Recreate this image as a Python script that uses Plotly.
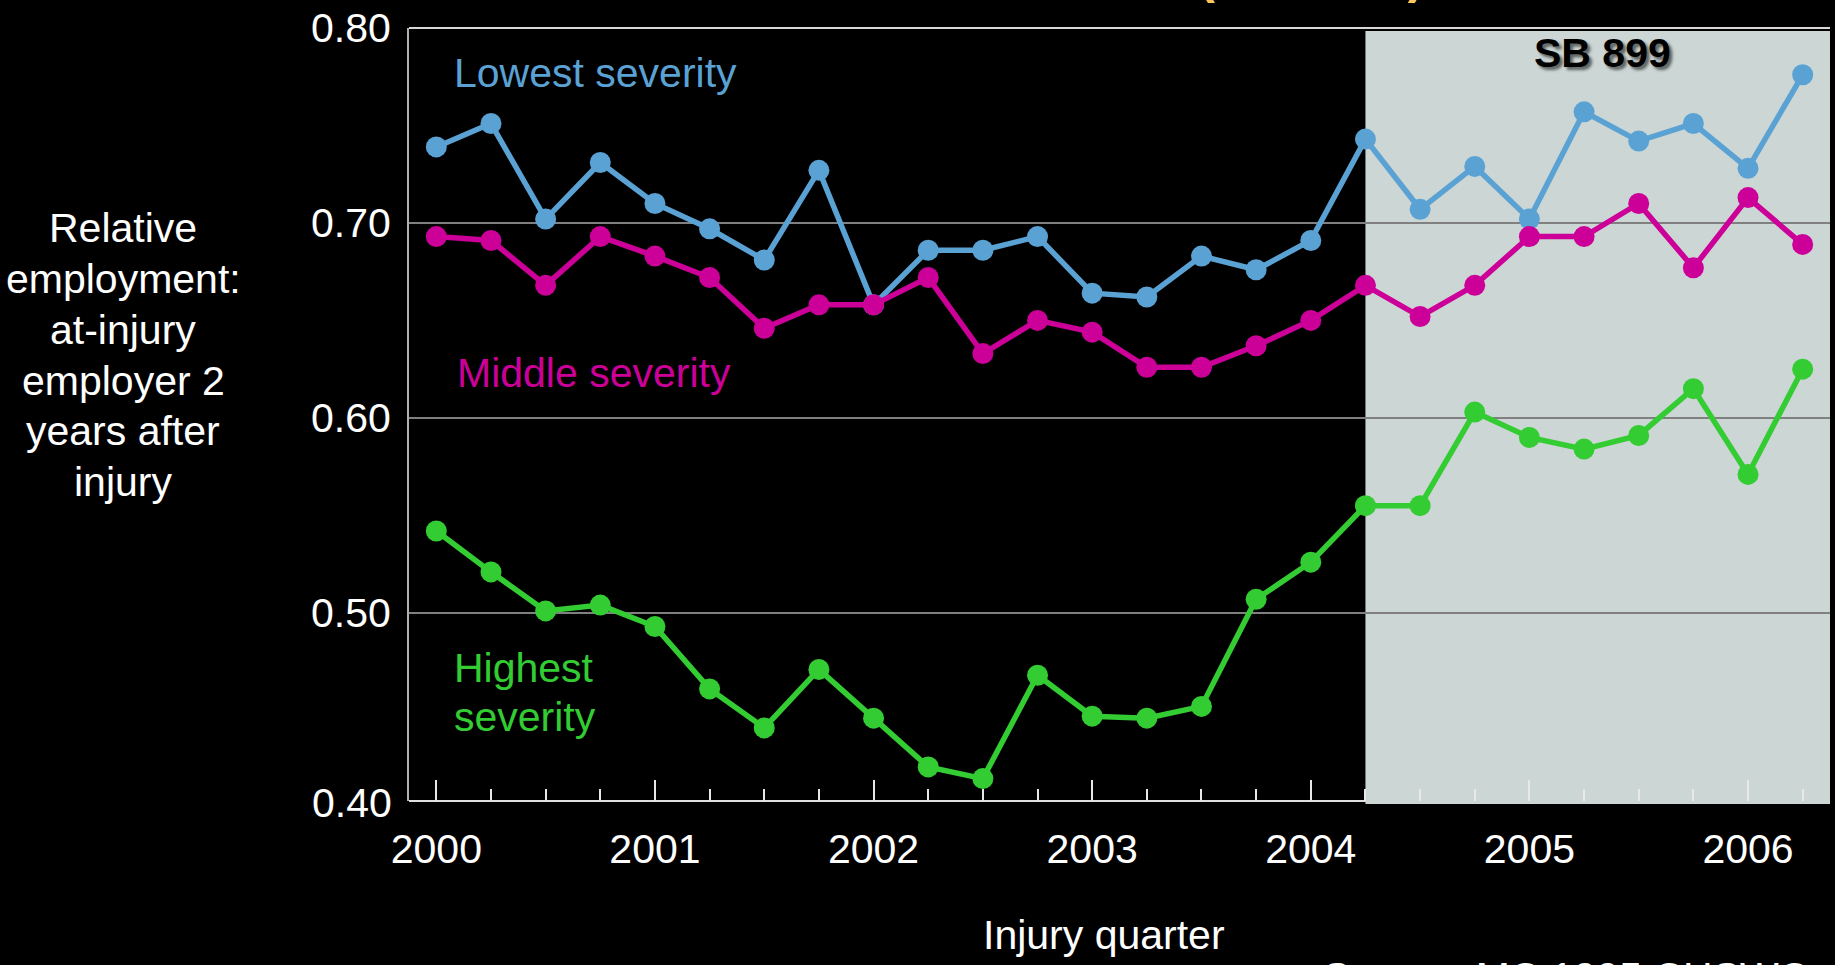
import plotly.graph_objects as go

# Injury quarters 2000Q1 .. 2006Q2 (index 0..25)
quarters = list(range(26))
year_ticks = [0, 4, 8, 12, 16, 20, 24]
year_labels = ["2000", "2001", "2002", "2003", "2004", "2005", "2006"]
y_ticks = [0.5, 0.6, 0.7, 0.8]
y_tick_labels = ["0.50", "0.60", "0.70", "0.80"]

lowest = [0.739, 0.751, 0.702, 0.731, 0.710, 0.697, 0.681, 0.727, 0.658, 0.686,
          0.686, 0.693, 0.664, 0.662, 0.683, 0.676, 0.691, 0.743, 0.707, 0.729,
          0.702, 0.757, 0.742, 0.751, 0.728, 0.776]
middle = [0.693, 0.691, 0.668, 0.693, 0.683, 0.672, 0.646, 0.658, 0.658, 0.672,
          0.633, 0.650, 0.644, 0.626, 0.626, 0.637, 0.650, 0.668, 0.652, 0.668,
          0.693, 0.693, 0.710, 0.677, 0.713, 0.689]
highest = [0.542, 0.521, 0.501, 0.504, 0.493, 0.461, 0.441, 0.471, 0.446, 0.421,
           0.415, 0.468, 0.447, 0.446, 0.452, 0.507, 0.526, 0.555, 0.555, 0.603,
           0.590, 0.584, 0.591, 0.615, 0.571, 0.625]

reform_start = 17  # 2004Q2, first quarter under SB 899

BLUE = "#5AA2D4"
MAGENTA = "#CC0099"
GREEN = "#33CC33"
FONT = "Liberation Sans, Arial, sans-serif"
FS = 41

fig = go.Figure()
for vals, col in [(lowest, BLUE), (middle, MAGENTA), (highest, GREEN)]:
    fig.add_trace(go.Scatter(
        x=quarters, y=vals, mode="lines+markers",
        line=dict(color=col, width=5.5),
        marker=dict(color=col, size=21),
        showlegend=False, hoverinfo="skip",
    ))

W, H = 1835, 965
L, R, T, B = 409, 5, 25, 164
pw, ph = W - L - R, H - T - B

def px(xp):
    return (xp - L) / pw

def py(yp):
    return (H - B - yp) / ph

shapes = [
    # post-reform shaded period
    dict(type="rect", xref="x", yref="paper", x0=reform_start, x1=25.5,
         y0=py(804), y1=py(28), fillcolor="#CCD6D4", line=dict(width=0),
         layer="below"),
    # bottom axis line (pre-reform part)
    dict(type="line", xref="paper", yref="paper", x0=0, x1=px(1366),
         y0=0, y1=0, line=dict(color="#E0E0E0", width=2), layer="below"),
    # top frame line at 0.80
    dict(type="line", xref="paper", yref="paper", x0=0, x1=1,
         y0=1, y1=1, line=dict(color="#D8D8D8", width=2), layer="above"),
]

# y-axis title, one line per annotation for even spacing
ytitle_lines = ["Relative", "employment:", "at-injury", "employer 2", "years after", "injury"]
annotations = []
for i, line in enumerate(ytitle_lines):
    annotations.append(dict(
        text=line, xref="paper", yref="paper", x=px(123), y=py(226 + i * 51),
        xanchor="center", yanchor="middle", showarrow=False,
        font=dict(family=FONT, size=FS, color="white")))

annotations += [
    dict(text="0.40", xref="paper", yref="paper", x=px(394), y=py(803),
         xanchor="right", yanchor="middle", showarrow=False,
         font=dict(family=FONT, size=FS, color="white")),
    dict(text="Injury quarter", xref="paper", yref="paper", x=px(1104), y=py(936),
         xanchor="center", yanchor="middle", showarrow=False,
         font=dict(family=FONT, size=FS, color="white")),
    dict(text="Lowest severity", xref="paper", yref="paper", x=px(452), y=py(70),
         xanchor="left", yanchor="middle", showarrow=False,
         font=dict(family=FONT, size=FS, color=BLUE)),
    dict(text="Middle severity", xref="paper", yref="paper", x=px(455), y=py(371),
         xanchor="left", yanchor="middle", showarrow=False,
         font=dict(family=FONT, size=FS, color=MAGENTA)),
    dict(text="Highest", xref="paper", yref="paper", x=px(452), y=py(667),
         xanchor="left", yanchor="middle", showarrow=False,
         font=dict(family=FONT, size=FS, color=GREEN)),
    dict(text="severity", xref="paper", yref="paper", x=px(452), y=py(717),
         xanchor="left", yanchor="middle", showarrow=False,
         font=dict(family=FONT, size=FS, color=GREEN)),
    dict(text="<b>SB 899</b>", xref="paper", yref="paper", x=px(1602), y=py(50),
         xanchor="center", yanchor="middle", showarrow=False,
         font=dict(family=FONT, size=FS, color="black",
                   shadow="3px 3px 3px rgba(0,0,0,0.55)")),
    dict(text="<b>(CHSWC)</b>", xref="paper", yref="paper", x=px(1311), y=py(2),
         xanchor="center", yanchor="bottom", showarrow=False,
         font=dict(family=FONT, size=51, color="#FFC65C")),
    dict(text="Source: MC 1995 CHSWC", xref="paper", yref="paper", x=px(1321), y=py(953),
         xanchor="left", yanchor="top", showarrow=False,
         font=dict(family=FONT, size=FS, color="white")),
]

fig.update_layout(
    width=W, height=H,
    margin=dict(l=L, r=R, t=T, b=B, pad=0),
    paper_bgcolor="black", plot_bgcolor="black",
    font=dict(family=FONT, size=FS, color="white"),
    shapes=shapes, annotations=annotations,
    xaxis=dict(
        range=[-0.5, 25.5], showgrid=False, zeroline=False, showline=False,
        tickmode="array", tickvals=year_ticks, ticktext=year_labels,
        ticks="inside", ticklen=21, tickwidth=2, tickcolor="#E8E8E8",
        tickfont=dict(family=FONT, size=FS, color="white"),
        ticklabelstandoff=20,
        minor=dict(tickmode="array", tickvals=quarters, ticks="inside",
                   ticklen=12, tickwidth=2, tickcolor="#E8E8E8", showgrid=False),
    ),
    yaxis=dict(
        range=[0.4035, 0.8], showgrid=True, gridcolor="#808080", gridwidth=2,
        zeroline=False, showline=True, linecolor="#B0B0B0", linewidth=2,
        tickmode="array", tickvals=y_ticks, ticktext=y_tick_labels,
        ticks="", tickfont=dict(family=FONT, size=FS, color="white"),
        ticklabelstandoff=8,
    ),
)

fig.write_html("out.html")
